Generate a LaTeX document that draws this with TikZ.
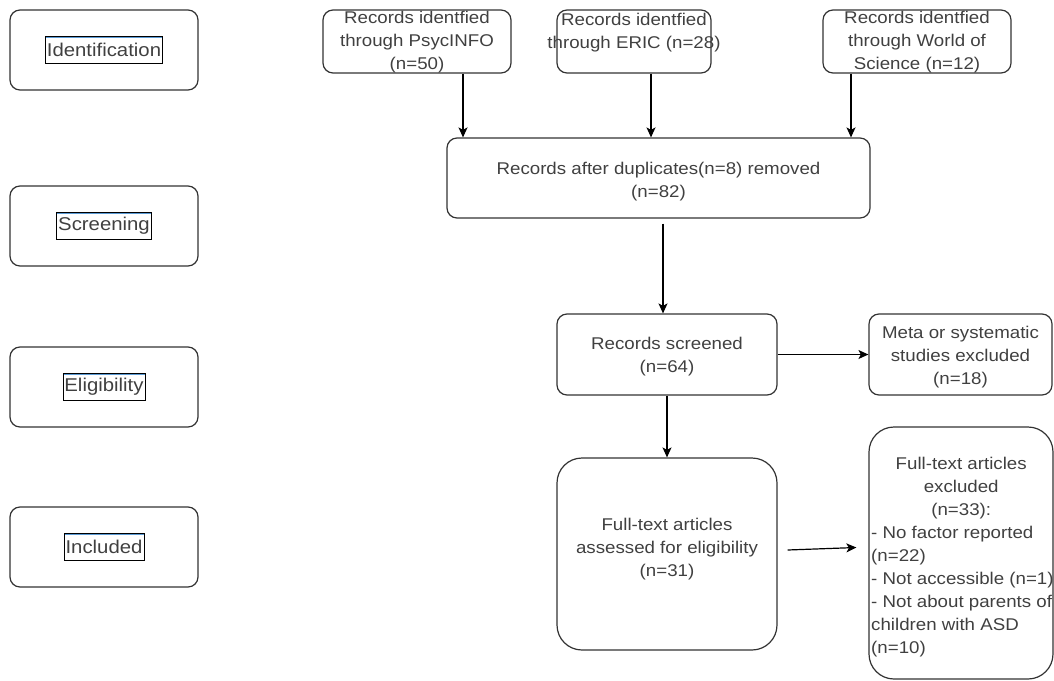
\documentclass[tikz,border=0pt]{standalone}
\usepackage{fontspec}
\setmainfont{Liberation Sans}[FakeStretch=1.1]
\usetikzlibrary{arrows.meta}
\definecolor{edge}{HTML}{333333}
\definecolor{ink}{HTML}{404040}
\definecolor{tagblue}{HTML}{5B9BD5}
\begin{document}
\begin{tikzpicture}[x=1pt,y=-1pt,
  stagebox/.style={draw=edge, line width=1.2pt, rounded corners=10pt,
    minimum width=188pt, minimum height=80pt, inner sep=0pt},
  tag/.style={draw=black, line width=0.8pt, inner xsep=1.5pt, inner ysep=0pt,
    minimum height=27pt, text=ink, font=\fontsize{18.5}{20}\selectfont,
    path picture={\draw[tagblue, line width=1.4pt]
      ([yshift=-1pt]path picture bounding box.north west) --
      ([yshift=-1pt]path picture bounding box.north east);}},
  flowbox/.style={draw=edge, line width=1.2pt, rounded corners=10pt, inner sep=0pt},
  bigbox/.style={flowbox, rounded corners=25pt},
  txt/.style={align=center, text=ink, font=\fontsize{17}{23}\selectfont, inner sep=0pt},
  arr/.style={draw=black, line width=1.2pt, -{Stealth[length=10pt,width=9pt,inset=2.5pt]}}
]
\useasboundingbox (0,0) rectangle (1054,680);

% stage column
\node[stagebox] (sid) at (104,50) {};
\node[tag] (tid) at (sid.center) {Identification};
\node[stagebox] (sscr) at (104,226) {};
\node[tag] (tscr) at (sscr.center) {Screening};
\node[stagebox] (selg) at (104,387) {};
\node[tag] (telg) at (selg.center) {Eligibility};
\node[stagebox] (sinc) at (104,547) {};
\node[tag] (tinc) at (sinc.center) {Included};

% sources
\node[flowbox, minimum width=188pt, minimum height=63pt] (ps) at (417,41.5) {};
\node[txt] (pst) at (417,42.5) {Records identfied\\through PsycINFO\\(n=50)};
\node[flowbox, minimum width=154pt, minimum height=63pt] (er) at (634,41.5) {};
\node[txt] (ert) at (634,32.5) {Records identfied\\through ERIC (n=28)};
\node[flowbox, minimum width=188pt, minimum height=63pt] (ws) at (917,41.5) {};
\node[txt] (wst) at (917,42.5) {Records identfied\\through World of\\Science (n=12)};

% deduplicated records
\node[flowbox, minimum width=423pt, minimum height=80pt] (dup) at (658.5,178) {};
\node[txt] (dupt) at (658.5,182) {Records after duplicates(n=8) removed\\(n=82)};

% screening
\node[flowbox, minimum width=220pt, minimum height=81pt] (scr) at (667,354.5) {};
\node[txt] (scrt) at (667,357) {Records screened\\(n=64)};
\node[flowbox, minimum width=183pt, minimum height=81pt] (meta) at (960.5,354.5) {};
\node[txt] (metat) at (960.5,357) {Meta or systematic\\studies excluded\\(n=18)};

% eligibility
\node[bigbox, minimum width=220pt, minimum height=192pt] (ft) at (667,554) {};
\node[txt] (ftt) at (667,549) {Full-text articles\\assessed for eligibility\\(n=31)};
\node[bigbox, minimum width=184pt, minimum height=252pt] (excl) at (961,553) {};
\node[txt, align=left, anchor=west] (exclt) at (871,557) {%
  \makebox[180pt]{Full-text articles}\\
  \makebox[180pt]{excluded}\\
  \makebox[180pt]{(n=33):}\\
  - No factor reported\\
  (n=22)\\
  - Not accessible (n=1)\\
  - Not about parents of\\
  children with ASD\\
  (n=10)};

% connectors
\draw[arr] ([xshift=46pt]ps.south) -- ([xshift=46pt]ps.south |- dup.north);
\draw[arr] ([xshift=17pt]er.south) -- ([xshift=17pt]er.south |- dup.north);
\draw[arr] ([xshift=-66pt]ws.south) -- ([xshift=-66pt]ws.south |- dup.north);
\draw[arr] ([xshift=4.5pt,yshift=-5pt]dup.south) -- ([xshift=4.5pt]dup.south |- scr.north);
\draw[arr] (scr.east) -- (meta.west);
\draw[arr] (scr.south) -- (ft.north);
\draw[arr] ([xshift=10pt,yshift=4pt]ft.east) -- ([xshift=-12pt,yshift=5.5pt]excl.west);
\end{tikzpicture}
\end{document}
